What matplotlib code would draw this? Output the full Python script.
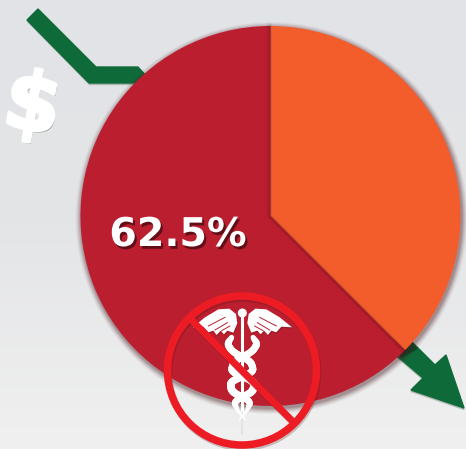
import numpy as np
import matplotlib
matplotlib.use("Agg")
import matplotlib.pyplot as plt
import matplotlib.patheffects as pe
from matplotlib.patches import Circle, Polygon

# pie shares
slice_values = [37.5, 62.5]
slice_colors = ["#f25d2b", "#bb1e2e"]
pie_label = "62.5%"

W, H = 466, 449
GREEN = "#0f6a3a"
RING = "#ed1c24"
CX, CY, R = 270.5, 216, 190


def zoomed(points, x0=150, y0=280):
    """Convert coordinates measured on a 3x crop back to image pixels."""
    return [(x0 + px / 3, y0 + py / 3) for px, py in points]


fig = plt.figure(figsize=(W / 100, H / 100), dpi=100)
ax = fig.add_axes([0, 0, 1, 1])

# background
shade = np.linspace(0, 1, 256).reshape(-1, 1)
ax.imshow(shade, extent=[0, W, H, 0], cmap=matplotlib.colors.LinearSegmentedColormap.from_list(
    "bg", ["#e2e3e6", "#e4e5e7", "#f0f0f0"]), aspect="auto", zorder=0)

# arrow behind the pie, upper left
upper_arrow = [(27, 20), (38, 9), (96, 67), (138, 67), (150, 80), (133, 83), (89, 83)]
ax.add_patch(Polygon([(x + 0.5, y + 1.5) for x, y in upper_arrow], color="#8a9c90", alpha=0.5, zorder=1))
ax.add_patch(Polygon(upper_arrow, color=GREEN, zorder=2))

# arrow leaving the pie, lower right
lower_arrow = [(395, 335), (410, 340), (435, 365), (446, 355), (464, 408), (411, 390), (423, 378), (390, 350)]
ax.add_patch(Polygon([(x, y + 1.5) for x, y in lower_arrow], color="#8a9c90", alpha=0.5, zorder=1))
ax.add_patch(Polygon(lower_arrow, color=GREEN, zorder=2))
ax.add_patch(Polygon([(396, 336), (412, 342), (418, 349), (402, 358), (392, 350)], color="#06321c", alpha=0.55, lw=0, zorder=3))

# dollar sign
ax.text(32, 108, "$", color="white", fontsize=58, fontweight="bold", family="DejaVu Sans",
        rotation=-10, ha="center", va="center", zorder=3,
        path_effects=[pe.withSimplePatchShadow(offset=(1, -1.5), shadow_rgbFace="#7f9484", alpha=0.9),
                      pe.withStroke(linewidth=2.5, foreground="white")])

# soft shadow round the pie
for grow, alpha in zip([6, 5, 4, 3, 2, 1], [0.04, 0.06, 0.08, 0.1, 0.12, 0.14]):
    ax.add_patch(Circle((CX + 1, CY + 2), R + grow, color="#4a1a20", alpha=alpha, lw=0, zorder=4))

wedges, _ = ax.pie(slice_values, colors=slice_colors, startangle=-90, counterclock=True,
                   center=(CX, CY), radius=R, wedgeprops={"linewidth": 0})
for w in wedges:
    w.set_zorder(5)

# dark fold along the slice edges, on the red side
end = np.deg2rad(-90 + 360 * slice_values[0] / sum(slice_values))
edge_x = [CX + R * np.cos(end), CX, CX]
edge_y = [CY + R * np.sin(end), CY, CY - R]
for offset, lw, alpha in [(-1.5, 4, 0.06), (-0.8, 2.2, 0.08), (-0.3, 1, 0.14)]:
    ax.plot(np.array(edge_x) + offset, edge_y, color="#3a0a10", lw=lw, alpha=alpha,
            solid_joinstyle="miter", zorder=6)

# label
ax.text(178, 235, pie_label, color="white", fontsize=28.5, fontweight="bold",
        family="DejaVu Sans", ha="center", va="center", zorder=7,
        path_effects=[pe.withSimplePatchShadow(offset=(1.5, -2), shadow_rgbFace="#4a0a12", alpha=0.8)])

# caduceus wings, measured on the crop and mirrored about the staff
STAFF = 277
left_wing = [(128, 142), (165, 112), (205, 88), (238, 86), (258, 102), (262, 130), (250, 158),
             (232, 152), (222, 163), (212, 152), (200, 165), (190, 152), (175, 157), (160, 140)]
for sign in (1, -1):
    pts = [(STAFF + sign * (px - STAFF), py) for px, py in left_wing]
    ax.add_patch(Polygon(zoomed([(x + 2, y + 4) for x, y in pts]), color="#5a1016", alpha=0.35, lw=0, zorder=8))
    ax.add_patch(Polygon(zoomed(pts), color="white", lw=0, zorder=9))
    # feather gaps
    for a, b in [((175, 138), (225, 112)), ((195, 150), (232, 128)), ((215, 152), (240, 138))]:
        seg = zoomed([(STAFF + sign * (p[0] - STAFF), p[1]) for p in (a, b)])
        ax.plot(*zip(*seg), color="#bb1e2e", lw=0.7, zorder=10)

# staff and ball
ax.plot(*zip(*zoomed([(STAFF, 100), (STAFF, 400)])), color="white", lw=2.2, zorder=9)
ax.plot(*zip(*zoomed([(STAFF, 400), (STAFF, 462)])), color="#dfe3df", lw=1.2, zorder=9)
ax.add_patch(Circle(zoomed([(STAFF, 99)])[0], 4.5, color="white", lw=0, zorder=10))

# serpents, one wrapped each way round the staff
snake_y = [172, 190, 215, 245, 275, 305, 335, 365, 395, 420]
snake_dx = [-30, -46, -30, 26, 34, -36, -32, 26, 12, -10]
snake_w = [5, 7, 7, 7, 7, 7.5, 7.5, 6.5, 2.5, 1.2]
for sign in (1, -1):
    ys = np.array(snake_y, float)
    xs = STAFF + sign * np.array(snake_dx, float)
    fine_y = np.linspace(ys[0], ys[-1], 90)
    fine_x = np.interp(fine_y, ys, xs)
    fine_x = np.convolve(np.pad(fine_x, 3, mode="edge"), np.ones(7) / 7, mode="valid")
    fine_w = np.interp(fine_y, ys, snake_w)
    line_pts = zoomed(list(zip(fine_x, fine_y)))
    for i in range(len(line_pts) - 1):
        ax.plot(*zip(line_pts[i], line_pts[i + 1]), color="white", lw=fine_w[i] * 0.72,
                solid_capstyle="round", zorder=9)

# no-entry ring and slash
RING_C = (242, 370.5)
ax.add_patch(Circle((RING_C[0] + 1, RING_C[1] + 2), 74.5, fill=False, ec="#4a1a1a", alpha=0.25, lw=5.4, zorder=11))
ax.add_patch(Circle(RING_C, 74.5, fill=False, ec=RING, lw=5.4, zorder=12))
slash = zoomed([(122, 118), (428, 424)])
ax.plot(*zip(*[(x + 1, y + 2) for x, y in slash]), color="#4a1a1a", alpha=0.25, lw=5, zorder=11)
ax.plot(*zip(*slash), color=RING, lw=5, solid_capstyle="butt", zorder=12)

ax.set_xlim(0, W)
ax.set_ylim(H, 0)
ax.set_aspect("auto")
ax.axis("off")
fig.savefig("out.png", dpi=100)
